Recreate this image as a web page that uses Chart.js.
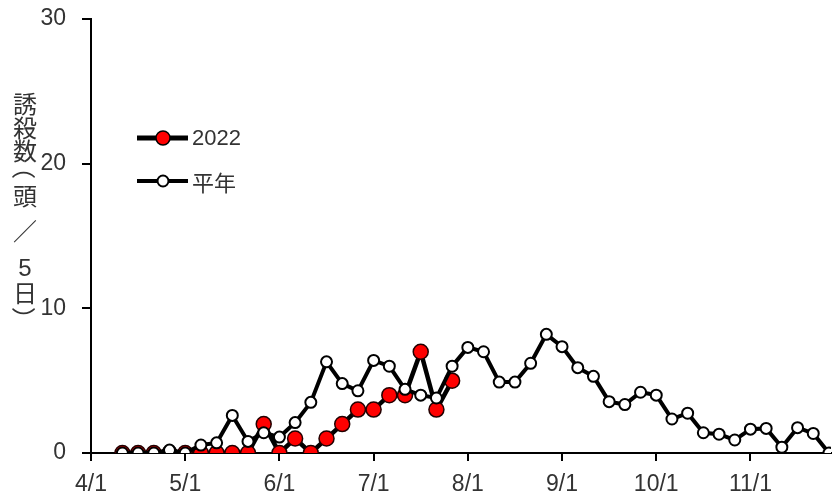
<!DOCTYPE html>
<html><head><meta charset="utf-8">
<script src="https://cdn.jsdelivr.net/npm/chart.js@4/dist/chart.umd.min.js"></script>
<style>
html,body{margin:0;padding:0;background:#fff;}
#wrap{position:relative;width:840px;height:498px;overflow:hidden;}
#ytitle{position:absolute;left:0;top:0;width:48px;height:498px;font-family:"Noto Sans CJK JP";font-size:24px;color:#333;}
#ytitle span{position:absolute;left:12px;width:26px;height:26px;line-height:26px;text-align:center;display:block;}
#ytitle span.rot{transform:rotate(90deg);}
#ytitle span.num{font-family:'Liberation Sans';}
.leg{position:absolute;left:136px;height:30px;display:flex;align-items:center;font-size:22px;color:#333;}
.leg svg{display:block;}
</style></head>
<body><div id="wrap"><canvas id="c" width="840" height="498"></canvas>
<div id="ytitle" aria-label="誘殺数（頭／5日）"><span style="top:90px">誘</span><span style="top:114px">殺</span><span style="top:137px">数</span><span class="rot" style="top:154px">（</span><span style="top:182px">頭</span><span style="top:217px">／</span><span class="num" style="top:255px">5</span><span style="top:279px">日</span><span class="rot" style="top:306px">）</span></div>
<div class="leg" style="top:123px"><svg width="54" height="30"><line x1="1" y1="15" x2="52" y2="15" stroke="#000" stroke-width="5"/><circle cx="27" cy="15" r="7" fill="#ff0000" stroke="#000" stroke-width="1.5"/></svg><span style="font-family:'Liberation Sans';margin-left:2px">2022</span></div>
<div class="leg" style="top:166px"><svg width="54" height="30"><line x1="1" y1="15" x2="52" y2="15" stroke="#000" stroke-width="4"/><circle cx="27" cy="15" r="5.5" fill="#fff" stroke="#000" stroke-width="2"/></svg><span style="font-family:'Noto Sans CJK JP';margin-left:2px">平年</span></div>
</div>
<script>
// 48 half-month periods (半旬) from April 1st period to November 6th period
const monthLabels = ['4/1','5/1','6/1','7/1','8/1','9/1','10/1','11/1'];
const periodsPerMonth = 6;
const seriesNames = ['2022','平年'];
const values2022 = [null,null,0,0,0,0,0,0,0,0,0,2,0,1,0,1,2,3,3,4,4,7,3,5];
const valuesNormal = [null,null,0,0,0,0.2,0,0.55,0.7,2.6,0.8,1.4,1.1,2.1,3.5,6.3,4.8,4.3,6.4,6.0,4.4,4.0,3.8,6.0,7.3,7.0,4.9,4.9,6.2,8.2,7.35,5.9,5.3,3.55,3.35,4.2,4.0,2.35,2.75,1.4,1.3,0.9,1.65,1.7,0.4,1.75,1.35,0];
const yTicks = [0,10,20,30];

const toPts = arr => arr.map((v,i)=>({x:i,y:v}));
const font = {family:'Liberation Sans', size:23};

new Chart(document.getElementById('c'), {
  type:'line',
  data:{datasets:[
    {label:seriesNames[1], data:toPts(valuesNormal), order:0, borderColor:'#000', borderWidth:4, backgroundColor:'#fff', pointBackgroundColor:'#fff', pointBorderColor:'#000', pointBorderWidth:2, pointRadius:5.5, tension:0, spanGaps:false},
    {label:seriesNames[0], data:toPts(values2022), order:1, borderColor:'#000', borderWidth:4.5, backgroundColor:'#ff0000', pointBackgroundColor:'#ff0000', pointBorderColor:'#200', pointBorderWidth:1.5, pointRadius:7.5, tension:0, spanGaps:false}
  ]},
  options:{
    responsive:false, animation:false, devicePixelRatio:1,
    layout:{padding:{top:19,left:0,right:0,bottom:0}},
    plugins:{legend:{display:false}, tooltip:{enabled:false}},
    scales:{
      x:{type:'linear', min:0, max:47.13,
        afterBuildTicks:s=>{s.ticks = monthLabels.map((m,i)=>({value:i*periodsPerMonth}));},
        afterFit:s=>{s.height=45; s.paddingLeft=0; s.paddingRight=0;},
        ticks:{callback:v=>monthLabels[Math.round(v/periodsPerMonth)], font, color:'#333', padding:10, maxRotation:0, autoSkip:false},
        grid:{drawOnChartArea:false, drawTicks:true, tickLength:8, color:'#000', lineWidth:2},
        border:{display:true, color:'#000', width:2}
      },
      y:{min:0, max:30,
        afterBuildTicks:s=>{s.ticks = yTicks.map(v=>({value:v}));},
        afterFit:s=>{s.width=91; s.paddingTop=0; s.paddingBottom=0;},
        ticks:{font, color:'#333', padding:16},
        grid:{drawOnChartArea:false, drawTicks:true, tickLength:9, color:'#000', lineWidth:2},
        border:{display:true, color:'#000', width:2}
      }
    }
  }
});
</script>
</body></html>
